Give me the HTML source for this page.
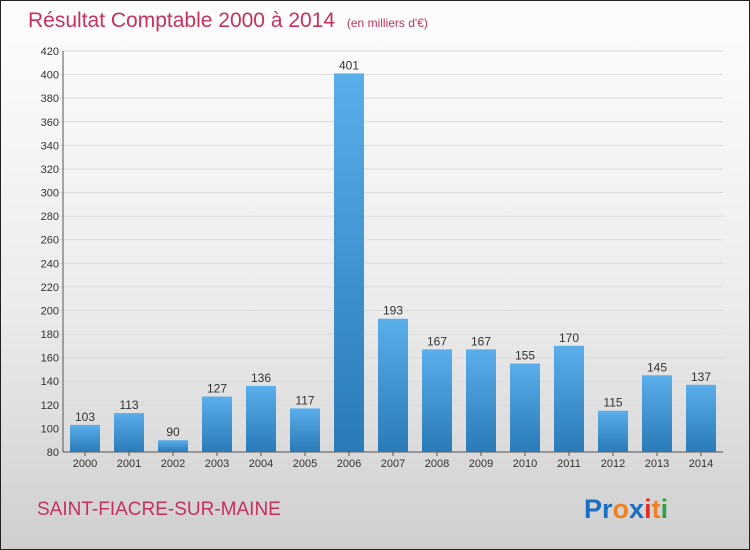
<!DOCTYPE html>
<html><head><meta charset="utf-8"><style>
body{margin:0}
#c{width:750px;height:550px;position:relative;box-sizing:border-box;border:1px solid #222;background:linear-gradient(#fdfdfd 0%,#ececec 55%,#cfcfcf 100%);font-family:"Liberation Sans",sans-serif;overflow:hidden}
</style></head><body>
<div id="c">
<svg width="750" height="550" style="position:absolute;left:0;top:0" id="svg">
<defs><linearGradient id="bg" x1="0" y1="0" x2="0" y2="1"><stop offset="0" stop-color="#5aaeea"/><stop offset="1" stop-color="#2a7ab8"/></linearGradient></defs>
<text x="27" y="26" font-size="21" fill="#c8305e">Résultat Comptable 2000 à 2014 <tspan font-size="12" dx="6">(en milliers d'€)</tspan></text>
<text x="36" y="514" font-size="19" fill="#c8305e">SAINT-FIACRE-SUR-MAINE</text>
<text x="583" y="517" font-size="27" font-weight="bold"><tspan fill="#1a6fc4">Pr</tspan><tspan fill="#f08020">o</tspan><tspan fill="#1a6fc4">x</tspan><tspan fill="#e03020">i</tspan><tspan fill="#f08020">t</tspan><tspan fill="#30a040">i</tspan></text>
<g id="plot"></g>
</svg>
</div>
<script>
const years=["2000","2001","2002","2003","2004","2005","2006","2007","2008","2009","2010","2011","2012","2013","2014"];
const values=[103,113,90,127,136,117,401,193,167,167,155,170,115,145,137];
const ticks=[80,100,120,140,160,180,200,220,240,260,280,300,320,340,360,380,400,420];
const NS="http://www.w3.org/2000/svg";
const g=document.getElementById('plot');
const x0=62,x1=722,yb=451,yt=50,vmin=80,vmax=420;
const y=v=>yb-(v-vmin)/(vmax-vmin)*(yb-yt);
const step=(x1-x0)/years.length;
const xc=i=>x0+step*(i+0.5);
function mk(t,a){const e=document.createElementNS(NS,t);for(const k in a)e.setAttribute(k,a[k]);g.appendChild(e);return e;}
ticks.forEach(t=>{
 const l=mk('line',{x1:x0-4,x2:x1,y1:y(t),y2:y(t),stroke:'#dcdcdc','stroke-width':1});
 
 
 const tx=mk('text',{x:x0-4,y:y(t)+4,'text-anchor':'end','font-size':11,fill:'#333'});
 tx.textContent=t;
 
 
});
const ax=mk('line',{x1:x0,x2:x0,y1:yt,y2:yb,stroke:'#555'});


const bx=mk('line',{x1:x0,x2:x1,y1:yb,y2:yb,stroke:'#555'});


years.forEach((yr,i)=>{
 const v=values[i],bw=30;
 const r=mk('rect',{x:xc(i)-bw/2,y:y(v),width:bw,height:yb-y(v),fill:'url(#bg)'});
 
 
 const vl=mk('text',{x:xc(i),y:y(v)-4,'text-anchor':'middle','font-size':12,fill:'#333'});
 vl.textContent=v;
 
 
 const tk=mk('line',{x1:xc(i),x2:xc(i),y1:yb,y2:yb+4,stroke:'#555'});
 
 
 const xl=mk('text',{x:xc(i),y:yb+15,'text-anchor':'middle','font-size':11,fill:'#333'});
 xl.textContent=yr;
 
 
});
</script>
</body></html>
